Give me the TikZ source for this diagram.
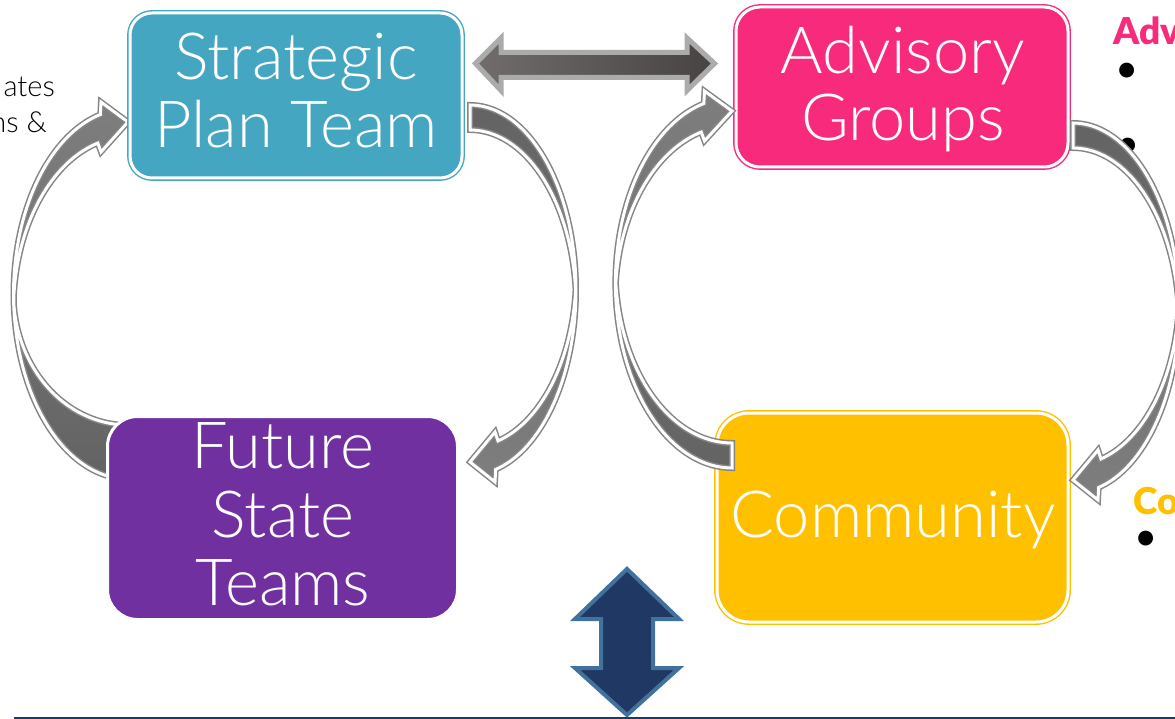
\documentclass[tikz,border=0pt]{standalone}
\usepackage{fontspec}
\IfFontExistsTF{Lato Light}{\newfontfamily\lightf{Lato Light}}{\newfontfamily\lightf{Lato}}
\newfontfamily\latof{Lato}
\IfFontExistsTF{Lato Black}{\newfontfamily\heavyf{Lato Black}}{\newcommand\heavyf{\latof\bfseries}}
\definecolor{cteal}{HTML}{44A6C0}
\definecolor{cpink}{HTML}{F82A7B}
\definecolor{cpurple}{HTML}{7030A0}
\definecolor{cyellow}{HTML}{FFC000}
\definecolor{arrdark}{HTML}{636363}
\definecolor{arrlight}{HTML}{7E7E7E}
\definecolor{arrline}{HTML}{858585}
\definecolor{cnavy}{HTML}{203864}
\definecolor{csteel}{HTML}{41719C}
\definecolor{cline}{HTML}{1F3864}
\definecolor{hlight}{HTML}{706D6C}
\definecolor{hdark}{HTML}{474342}
\newcommand\curvarr[4]{%
  \begin{scope}[#1]
  \path[arrshape,#4]
    plot[domain=-90:76,samples=80,variable=\t]({106*cos(\t)},{185*sin(\t)})
    -- (25,192) -- (0,172) -- (25,142)
    -- plot[domain=74.7:5,samples=40,variable=\t]({106*cos(\t)},{-15+172*sin(\t)})
    -- plot[domain=-5:-90,samples=40,variable=\t]({106*cos(\t)},{#2+#3*sin(\t)})
    -- cycle;
  \end{scope}}
\begin{document}
\begin{tikzpicture}[x=1pt,y=-1pt,
  arrshape/.style={draw=arrline,double=white,double distance=3pt,line width=1.5pt,line join=miter},
  headup/.style={top color=arrlight,bottom color=arrdark},
  headdown/.style={top color=arrdark,bottom color=arrlight},
  dblbox/.style={rectangle,draw=#1,fill=#1,double=white,double distance=3pt,line width=1.4pt,inner sep=0pt},
  boxtxt/.style={text=white,font=\lightf\fontsize{65}{68}\selectfont,anchor=base,inner sep=0pt},
  sidetxt/.style={font=\lightf\fontsize{29}{35}\selectfont,anchor=base east,inner sep=0pt},
  headtxt/.style={font=\heavyf\fontsize{37}{44}\selectfont,anchor=base west,inner sep=0pt},
  bul/.style={font=\latof\fontsize{40}{44}\selectfont,inner sep=0pt}]
\useasboundingbox (0,0) rectangle (1175,719);
\fill[white] (0,0) rectangle (1175,719);
% side texts
\node[sidetxt] (s1) at (55,97) {ates};
\node[sidetxt] (s2) at (47,133) {ns \&};
\node[headtxt,text=cpink] (h1) at (1113,45) {Adv};
\node[headtxt,text=cyellow] (h2) at (1133,514) {Co};
\node[bul] (b1) at (1127,73) {•};
\node[bul] (b2) at (1128,148) {•};
\node[bul] (b3) at (1146,541) {•};
% arrow under the Future State box
\curvarr{shift={(128,294)},rotate=180,xscale=1.08}{0}{131}{headup}
% boxes
\node[dblbox=cteal,minimum width=332pt,minimum height=165pt,rounded corners=22pt] (spt) at (296,95.5) {};
\node[dblbox=cpink,minimum width=332pt,minimum height=160pt,rounded corners=24pt] (adv) at (902,87) {};
\node[rectangle,fill=cpurple,draw=white,line width=3pt,minimum width=350pt,minimum height=203pt,rounded corners=30pt] (fst) at (282.5,518) {};
\node[dblbox=cyellow,minimum width=351pt,minimum height=209pt,rounded corners=32pt] (com) at (892.5,517.5) {};
% curved arrows over the boxes
\curvarr{shift={(470,290)}}{15}{175}{headdown}
\curvarr{shift={(732,283)},rotate=180,xscale=1.1}{15}{175}{headup}
\curvarr{shift={(1073,308)}}{15}{175}{headdown}
% box texts
\node[boxtxt] (t1) at (296,80) {Strategic};
\node[boxtxt] (t2) at (296,148) {Plan Team};
\node[boxtxt] (t3) at (903,74) {Advisory};
\node[boxtxt] (t4) at (903,141) {Groups};
\node[boxtxt] (t5) at (283,468) {Future};
\node[boxtxt] (t6) at (283,537) {State};
\node[boxtxt] (t7) at (283,605) {Teams};
\node[boxtxt] (t8) at (893,537) {Community};
% horizontal double arrow
\path[left color=hlight,right color=hdark,draw=black!33,line width=5pt,line join=miter]
  (475.5,63.5) -- (501,38) -- (501,52.5) -- (687,52.5) -- (687,38) -- (714.5,63.5)
  -- (687,90.5) -- (687,77.5) -- (501,77.5) -- (501,90.5) -- cycle;
% vertical double arrow
\path[fill=cnavy,draw=csteel,line width=4pt,line join=miter]
  (627,569) -- (575,619) -- (601,619) -- (601,668) -- (575,668) -- (627,715)
  -- (679,668) -- (653,668) -- (653,619) -- (679,619) -- cycle;
% bottom rule
\coordinate (l1) at (14,717.5);
\coordinate (l2) at (1175,717.5);
\draw[cline,line width=2pt] (l1) -- (l2);
\end{tikzpicture}
\end{document}
